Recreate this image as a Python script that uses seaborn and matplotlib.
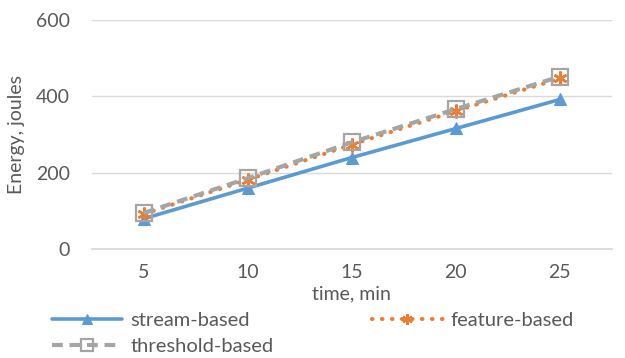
import numpy as np
import pandas as pd
import seaborn as sns
import matplotlib.pyplot as plt

# values
time_min = [5, 10, 15, 20, 25]
stream_based = [80, 160, 240, 316, 392]
feature_based = [92, 182, 274, 362, 447]
threshold_based = [95, 186, 280, 367, 452]
y_ticks = [0, 200, 400, 600]

BLUE = "#5B9BD5"
ORANGE = "#ED7D31"
GRAY = "#A5A5A5"
TEXT = "#595959"

sns.set_theme(style="white")
plt.rcParams['font.family'] = ['Lato', 'DejaVu Sans']

fig = plt.figure(figsize=(6.25, 3.58), dpi=100)
ax = fig.add_axes([0.147, 0.304, 0.832, 0.64])

sns.lineplot(x=time_min, y=stream_based, ax=ax, color=BLUE, linewidth=2.6,
             marker="^", markersize=9, markeredgecolor=BLUE, label="stream-based")
sns.lineplot(x=time_min, y=feature_based, ax=ax, color=ORANGE, linewidth=3,
             linestyle=(0, (0.1, 2.3)), dash_capstyle="round",
             marker=(6, 2, 0), markersize=10, markeredgewidth=1.8,
             markeredgecolor=ORANGE, label="feature-based")
sns.lineplot(x=time_min, y=threshold_based, ax=ax, color=GRAY, linewidth=3,
             linestyle=(0, (2.6, 1.6)), marker="s", markersize=12,
             markerfacecolor="none", markeredgecolor=GRAY, markeredgewidth=1.6,
             label="threshold-based")

ax.set_xlim(2.5, 27.5)
ax.set_ylim(0, 600)
ax.set_xticks(time_min)
ax.set_yticks(y_ticks)
ax.yaxis.grid(True, color="#D9D9D9", linewidth=1)
ax.set_axisbelow(True)
sns.despine(ax=ax, left=True, top=True, right=True, bottom=False)
ax.spines['bottom'].set_color("#D9D9D9")
ax.tick_params(axis='x', length=0, pad=11, labelsize=14, labelcolor=TEXT)
ax.tick_params(axis='y', length=0, pad=16, labelsize=14, labelcolor=TEXT)

ax.set_xlabel("time, min", fontsize=14, color=TEXT, labelpad=3)
ax.set_ylabel("Energy, joules", fontsize=14, color=TEXT, labelpad=8)

handles, labels = ax.get_legend_handles_labels()
ax.legend_.remove()
order = [0, 2, 1]
fig.legend([handles[i] for i in order], [labels[i] for i in order],
           loc="upper left", bbox_to_anchor=(0.07, 0.152),
           ncol=2, frameon=False, fontsize=14.5, labelcolor=TEXT,
           handlelength=3.5, columnspacing=4.9, handletextpad=0.4,
           labelspacing=0.45, borderaxespad=0, markerscale=0.75)

fig.savefig("out.png", dpi=100)
